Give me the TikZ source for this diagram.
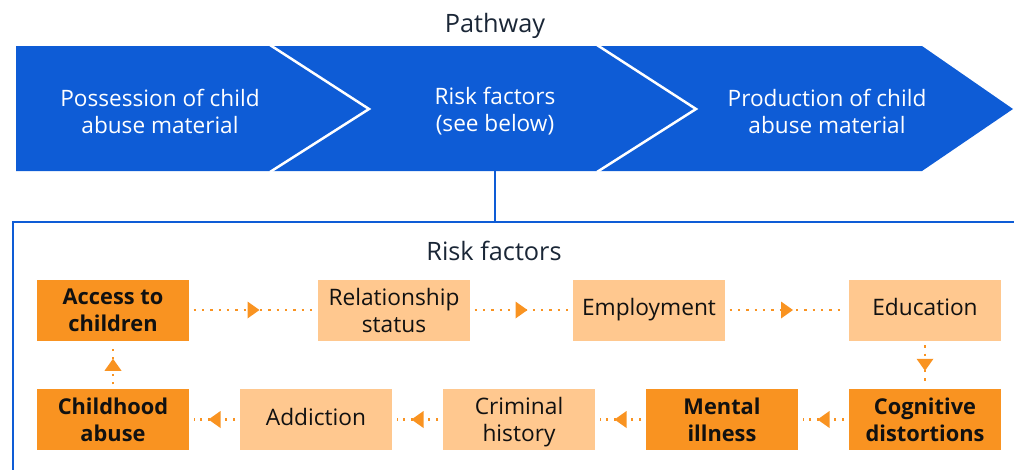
\documentclass[tikz,border=0pt]{standalone}
\usepackage{fontspec}
\setmainfont{Open Sans}
\usetikzlibrary{decorations.markings}
\definecolor{bannerblue}{RGB}{14,92,214}
\definecolor{orangedark}{RGB}{249,147,33}
\definecolor{orangelight}{RGB}{255,200,143}
\definecolor{navytext}{RGB}{26,38,54}
\definecolor{boxtext}{RGB}{17,17,17}
\tikzset{
  bannertext/.style={text=white, align=center, font=\fontsize{22.6}{27}\selectfont, inner sep=0pt},
  heading/.style={text=navytext, font=\fontsize{25.3}{30}\selectfont, inner sep=0pt, anchor=base},
  factor/.style={rectangle, minimum width=152pt, minimum height=61pt, inner sep=0pt, align=center,
    text=boxtext, font=\fontsize{22.7}{27}\selectfont},
  keyfactor/.style={factor, fill=orangedark, font=\fontsize{21.8}{27}\selectfont\bfseries},
  minorfactor/.style={factor, fill=orangelight},
  oneline/.style={text height=16.4pt, text depth=5pt},
  flow/.style={draw=orangedark, line width=2.3pt, dash pattern=on 2.3pt off 6pt,
    shorten >=4.5pt, shorten <=4.5pt, postaction={decorate},
    decoration={markings, mark=at position 0.5 with {\fill[orangedark] (-6pt,-8.5pt) -- (6pt,0pt) -- (-6pt,8.5pt) -- cycle;}}},
  frameline/.style={draw=bannerblue, line width=2.2pt},
  chevron/.style={draw=white, line width=2.5pt}
}
\begin{document}
\begin{tikzpicture}[x=1pt,y=-1pt]
\useasboundingbox (0,0) rectangle (1014,469);
% banner
\fill[bannerblue] (16,46) -- (922,46) -- (1013,109) -- (922,171) -- (16,171) -- cycle;
\draw[chevron] (270,45) -- (369,109) -- (270,172);
\draw[chevron] (597,45) -- (696,109) -- (597,172);
\node[heading] (pathway) at (495,32) {Pathway};
\node[bannertext] (stage1) at (160,111) {Possession of child\\abuse material};
\node[bannertext] (stage2) at (495,111) {Risk factors\\(see below)};
\node[bannertext] (stage3) at (827,111) {Production of child\\abuse material};
% connector and frame
\coordinate (bannerbottom) at (495,171);
\coordinate (frametop) at (495,222);
\coordinate (frameleft) at (13,222);
\coordinate (frameright) at (1016,222);
\coordinate (framebottom) at (13,471);
\draw[frameline] (bannerbottom) -- (frametop);
\draw[frameline] (frameright) -- (frameleft) -- (framebottom);
\node[heading] (riskhead) at (494,260) {Risk factors};
% row 1
\node[keyfactor] (access) at (113,310) {Access to\\children};
\node[minorfactor] (relation) at (394,310) {Relationship\\status};
\node[minorfactor, oneline] (employ) at (649,310) {Employment};
\node[minorfactor, oneline] (educ) at (925,310) {Education};
% row 2
\node[keyfactor] (childabuse) at (113,419.5) {Childhood\\abuse};
\node[minorfactor, oneline] (addict) at (316,419.5) {Addiction};
\node[minorfactor] (crime) at (519,419.5) {Criminal\\histor\smash{y}};
\node[keyfactor] (mental) at (722,419.5) {Mental\\illness};
\node[keyfactor] (cognit) at (925,419.5) {Cognitive\\distortions};
% flows
\draw[flow] (access.east) -- (relation.west);
\draw[flow] (relation.east) -- (employ.west);
\draw[flow] (employ.east) -- (educ.west);
\draw[flow] (educ.south) -- (cognit.north);
\draw[flow] (cognit.west) -- (mental.east);
\draw[flow] (mental.west) -- (crime.east);
\draw[flow] (crime.west) -- (addict.east);
\draw[flow] (addict.west) -- (childabuse.east);
\draw[flow] (childabuse.north) -- (access.south);
\end{tikzpicture}
\end{document}
